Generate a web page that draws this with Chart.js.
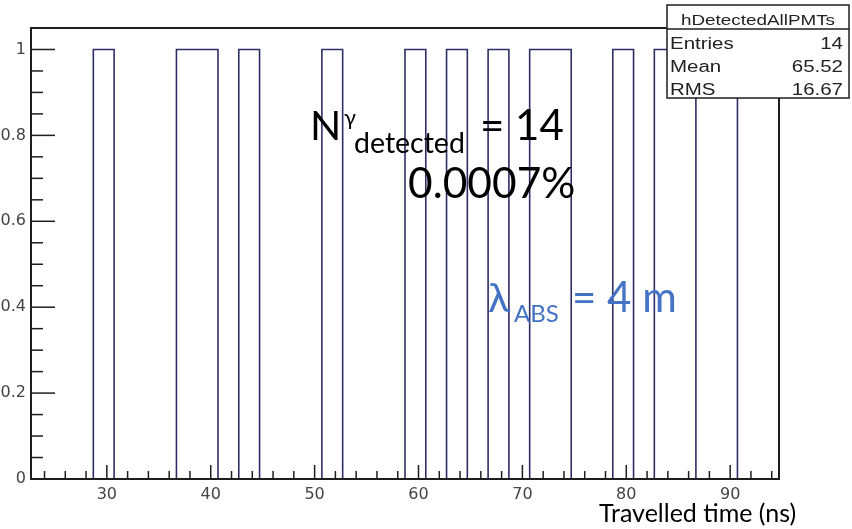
<!DOCTYPE html>
<html>
<head>
<meta charset="utf-8">
<script src="https://cdn.jsdelivr.net/npm/chart.js@4.4.1/dist/chart.umd.min.js"></script>
<style>
  html, body { margin: 0; padding: 0; background: #fff; }
  #wrap { width: 852px; height: 529px; }
</style>
</head>
<body>
<div id="wrap"><canvas id="histo" width="852" height="529"></canvas></div>
<script>
// 36 bins of 2 ns, first bin starts at 22.7 ns
const binStart = 22.7;
const binWidth = 2;
const binCounts = [0, 0, 0, 1, 0, 0, 0, 1, 1, 0, 1, 0, 0, 0, 1, 0, 0, 0,
                   1, 0, 1, 0, 1, 0, 1, 1, 0, 0, 1, 0, 1, 1, 0, 0, 1, 1];

const xTicks = [30, 40, 50, 60, 70, 80, 90];
const yTicks = [0, 0.2, 0.4, 0.6, 0.8, 1];
const yMax = 1.05;

const statsTitle = 'hDetectedAllPMTs';
const statsNames = ['Entries', 'Mean', 'RMS'];
const statsValues = ['14', '65.52', '16.67'];

const lineCol = '#2e2e66';
const axisCol = '#1e1e1e';
const blue = '#4472c4';

// histogram outline as a step line through the bin lower edges
const steps = binCounts.map((c, i) => ({ x: binStart + i * binWidth, y: c }));
steps.push({ x: binStart + binCounts.length * binWidth, y: 0 });

function line(ctx, x1, y1, x2, y2) {
	ctx.beginPath(); ctx.moveTo(x1, y1); ctx.lineTo(x2, y2); ctx.stroke();
}
function txt(ctx, s, x, y, font, color, align, sx) {
	ctx.save();
	ctx.translate(x, y);
	ctx.scale(sx || 1, 1);
	ctx.font = font;
	ctx.fillStyle = color;
	ctx.textAlign = align || 'left';
	ctx.textBaseline = 'alphabetic';
	ctx.fillText(s, 0, 0);
	ctx.restore();
}

/* ---------- frame + ROOT style ticks ---------- */
const frameTicks = {
	id: 'frameTicks',
	afterDatasetsDraw(chart) {
		const { ctx, chartArea: a } = chart;
		const xs = chart.scales.x, ys = chart.scales.y;
		ctx.save();
		ctx.strokeStyle = axisCol;
		ctx.lineWidth = 2;
		ctx.strokeRect(a.left, a.top, a.right - a.left, a.bottom - a.top);
		ctx.lineWidth = 1.5;
		for (let v = 24; v <= 94; v += 2) {
			const px = xs.getPixelForValue(v);
			line(ctx, px, a.bottom, px, a.bottom - (v % 10 === 0 ? 14 : 8));
		}
		for (let k = 0; k <= 21; k++) {
			const py = ys.getPixelForValue(k * 0.05);
			line(ctx, a.left, py, a.left + (k % 4 === 0 ? 24 : 12), py);
		}
		ctx.restore();
	},
	afterDraw(chart) {
		const ctx = chart.ctx;
		ctx.save();
		// stats box
		ctx.fillStyle = '#fff';
		ctx.fillRect(667, 5, 182, 93);
		ctx.strokeStyle = axisCol;
		ctx.lineWidth = 1.5;
		ctx.strokeRect(667, 5, 182, 93);
		line(ctx, 667, 29, 849, 29);
		const sf = '14.5px "Liberation Sans", Arial, sans-serif';
		const rf = '16px "Liberation Sans", Arial, sans-serif';
		txt(ctx, statsTitle, 758, 25, sf, '#222', 'center', 1.3);
		statsNames.forEach((n, i) => {
			const y = 49 + i * 23;
			txt(ctx, n, 670, y, rf, '#222', 'left', 1.28);
			txt(ctx, statsValues[i], 843, y, rf, '#222', 'right', 1.28);
		});

		// annotations
		const big = '41px Lato, "Noto Sans", sans-serif';
		txt(ctx, 'N', 310, 140, big, '#000');
		txt(ctx, 'γ', 344, 125, '22px Lato, "Noto Sans", sans-serif', '#000');
		txt(ctx, 'detected', 354, 153, '28.5px Lato, "Noto Sans", sans-serif', '#000');
		txt(ctx, '= 14', 480, 140, '42px Lato, "Noto Sans", sans-serif', '#000');
		txt(ctx, '0.0007%', 408, 198, '42.5px Lato, "Noto Sans", sans-serif', '#000');

		txt(ctx, 'λ', 488, 312, big, blue);
		txt(ctx, 'ABS', 514, 322, '24px Lato, "Noto Sans", sans-serif', blue);
		txt(ctx, '= 4 m', 572, 312, '42px Lato, "Noto Sans", sans-serif', blue);

		txt(ctx, 'Travelled time (ns)', 599, 522, '25px Lato, "Noto Sans", sans-serif', '#000');
		ctx.restore();
	}
};

const tickFont = { family: '"DejaVu Sans", sans-serif', size: 16 };

new Chart(document.getElementById('histo'), {
	type: 'line',
	data: {
		datasets: [{
			data: steps,
			stepped: 'before',
			borderColor: lineCol,
			borderWidth: 1.6,
			pointRadius: 0,
			fill: false
		}]
	},
	options: {
		responsive: false,
		animation: false,
		devicePixelRatio: 1,
		layout: { padding: { top: 28, right: 73, left: 0, bottom: 0 } },
		plugins: { legend: { display: false }, tooltip: { enabled: false } },
		scales: {
			x: {
				type: 'linear',
				min: binStart,
				max: binStart + binCounts.length * binWidth,
				afterBuildTicks: s => { s.ticks = xTicks.map(v => ({ value: v })); },
				afterFit: s => { s.height = 50; },
				grid: { display: false, drawTicks: false, tickLength: 0 },
				border: { display: false },
				ticks: { font: tickFont, color: '#444', padding: 6, maxRotation: 0, autoSkip: false,
					callback: v => String(v) }
			},
			y: {
				min: 0,
				max: yMax,
				afterBuildTicks: s => { s.ticks = yTicks.map(v => ({ value: v })); },
				afterFit: s => { s.width = 31; },
				grid: { display: false, drawTicks: false, tickLength: 0 },
				border: { display: false },
				ticks: { font: tickFont, color: '#444', padding: 5,
					callback: v => String(Math.round(v * 10) / 10) }
			}
		}
	},
	plugins: [frameTicks]
});
</script>
</body>
</html>
